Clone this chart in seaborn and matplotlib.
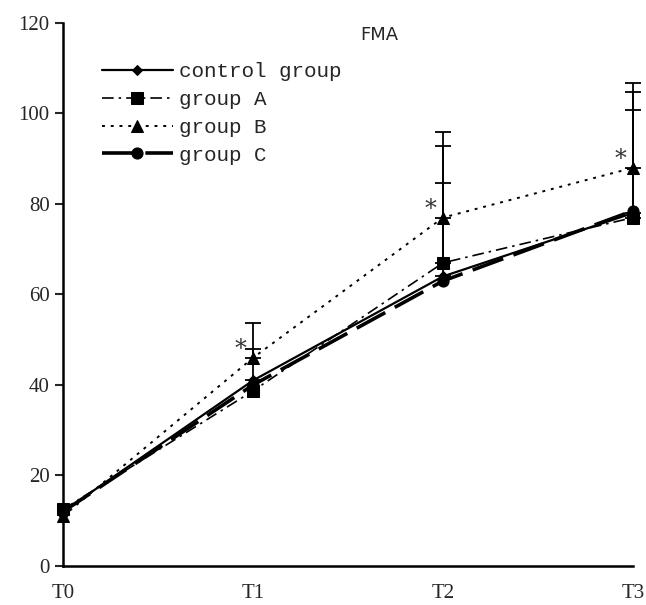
import pandas as pd
import seaborn as sns
import matplotlib.pyplot as plt

# data
TIMES = ["T0", "T1", "T2", "T3"]
GROUPS = ["control group", "group A", "group B", "group C"]
CONTROL = [12.0, 41.0, 64.0, 78.0]
GROUP_A = [12.5, 38.7, 67.0, 77.0]
GROUP_B = [11.0, 46.0, 77.0, 88.0]
GROUP_C = [12.0, 40.0, 63.0, 78.5]
# upper error bar ends (only the upper half is drawn)
CONTROL_TOP = [None, 48.0, 84.6, 100.8]
GROUP_A_TOP = [None, None, 92.8, 104.7]
GROUP_B_TOP = [None, 53.7, 96.0, 106.7]
Y_TICKS = [0, 20, 40, 60, 80, 100, 120]

STYLES = {
    "control group": dict(ls="-", lw=1.6, marker="D", ms=5),
    "group A": dict(ls=(0, (7, 3, 1.5, 3)), lw=1.2, marker="s", ms=9),
    "group B": dict(ls=(0, (1.5, 3)), lw=1.4, marker="^", ms=8),
    "group C": dict(ls=(0, (9, 3)), lw=2.6, marker="o", ms=8),
}


def main():
    values = [CONTROL, GROUP_A, GROUP_B, GROUP_C]
    rows = []
    for g, vals in zip(GROUPS, values):
        for i, v in enumerate(vals):
            rows.append({"group": g, "x": i, "value": v})
    df = pd.DataFrame(rows)

    sns.set_theme(style="ticks")
    fig, ax = plt.subplots(figsize=(6.46, 6.05), dpi=100)
    fig.subplots_adjust(left=0.0975, right=0.98, bottom=0.0645, top=0.962)

    # error bars first so the markers sit on top
    for g, tops in zip(["control group", "group A", "group B"],
                       [CONTROL_TOP, GROUP_A_TOP, GROUP_B_TOP]):
        base = values[GROUPS.index(g)]
        for i, t in enumerate(tops):
            if t is None:
                continue
            eb = ax.errorbar(i, base[i], yerr=[[0], [t - base[i]]], fmt="none",
                             ecolor="black", elinewidth=1.3, capsize=6,
                             capthick=1.3, zorder=2)
            for art in eb.lines[1] + eb.lines[2]:
                art.set_clip_on(False)

    for g in GROUPS:
        st = STYLES[g]
        sns.lineplot(data=df[df["group"] == g], x="x", y="value", ax=ax,
                     color="black", linestyle=st["ls"], linewidth=st["lw"],
                     marker=st["marker"], markersize=st["ms"],
                     markeredgecolor="black", label=g, zorder=3,
                     clip_on=False)

    # significance marks next to group B
    for i in [1, 2, 3]:
        ax.annotate("*", (i, GROUP_B[i]), xytext=(-9, 6),
                    textcoords="offset points", ha="center", va="center",
                    fontsize=17, family="DejaVu Serif", color="#333333")

    ax.set_xlim(0, 3)
    ax.set_ylim(0, 120)
    ax.set_xticks(range(len(TIMES)))
    ax.set_xticklabels(TIMES)
    ax.set_yticks(Y_TICKS)
    ax.tick_params(axis="x", length=0, pad=13)
    ax.tick_params(axis="y", length=6, width=1.5, direction="out")
    for lab in ax.get_xticklabels() + ax.get_yticklabels():
        lab.set_family("Liberation Serif")
        lab.set_fontsize(15)
    for side in ["top", "right"]:
        ax.spines[side].set_visible(False)
    for side in ["left", "bottom"]:
        ax.spines[side].set_linewidth(1.8)
        ax.spines[side].set_color("black")
    ax.set_xlabel("")
    ax.set_ylabel("")

    ax.text(0.555, 0.995, "FMA", transform=ax.transAxes, ha="center",
            va="top", fontsize=13, family="DejaVu Sans")

    ax.legend(loc="upper left", bbox_to_anchor=(0.035, 0.962),
              frameon=False, handlelength=3.4, handletextpad=0.3,
              labelspacing=0.42, prop={"family": "Liberation Mono",
                                       "size": 15})

    fig.savefig("out.png", dpi=100)


if __name__ == "__main__":
    main()
